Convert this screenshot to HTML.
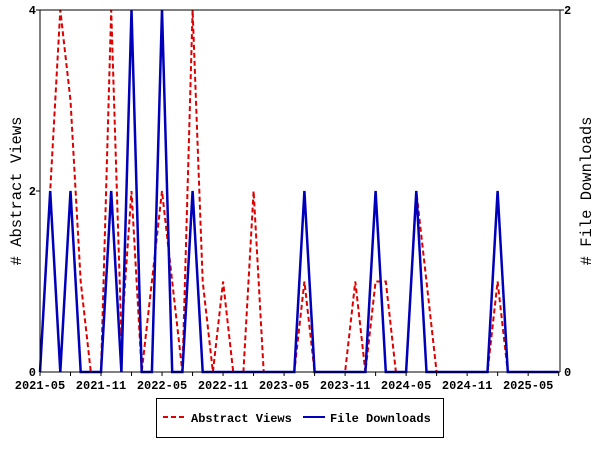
<!DOCTYPE html>
<html><head><meta charset="utf-8"><style>
body{margin:0;background:#fff}
svg text{font-family:"Liberation Mono",monospace;font-size:12px;font-weight:bold;fill:#000}
</style></head><body>
<svg id="s" width="600" height="450" xmlns="http://www.w3.org/2000/svg">
<rect x="0" y="0" width="600" height="450" fill="#fff"/>
<g id="plot"></g>
<line x1="40" y1="10" x2="40" y2="372" stroke="#000"/>
<line x1="560" y1="10" x2="560" y2="372" stroke="#000"/>
<line x1="40" y1="10" x2="560" y2="10" stroke="#000"/>
<line x1="40" y1="372" x2="560" y2="372" stroke="#000"/>
<g id="ticks" stroke="#000"></g>
<text x="36" y="14" text-anchor="end">4</text>
<text x="36" y="195" text-anchor="end">2</text>
<text x="36" y="376" text-anchor="end">0</text>
<text x="564" y="14">2</text>
<text x="564" y="376">0</text>
<g id="xl"></g>
<text transform="translate(21,191) rotate(-90)" text-anchor="middle" style="font-size:15.5px;font-weight:normal"># Abstract Views</text>
<text transform="translate(591,191) rotate(-90)" text-anchor="middle" style="font-size:15.5px;font-weight:normal"># File Downloads</text>
<rect x="156.5" y="398.5" width="287" height="39" fill="none" stroke="#000"/>
<line x1="163" y1="417" x2="184" y2="417" stroke="#d00" stroke-width="2" stroke-dasharray="5,3"/>
<text x="191" y="422">Abstract Views</text>
<line x1="303" y1="417" x2="325" y2="417" stroke="#00b" stroke-width="2"/>
<text x="330" y="422">File Downloads</text>
</svg>
<script>
var red=[0,2,4,3,1,0,0,4,0.4,2,0,1,2,1,0,4,1,0,1,0,0,2,0,0,0,0,1,0,0,0,0,1,0,1,1,0,0,2,1,0,0,0,0,0,0,1,0,0,0,0,0,0];
var blue=[0,1,0,1,0,0,0,1,0,2,0,0,2,0,0,1,0,0,0,0,0,0,0,0,0,0,1,0,0,0,0,0,0,1,0,0,0,1,0,0,0,0,0,0,0,1,0,0,0,0,0,0];
function X(i){return 40+i*10.17;}
var r=red.map((v,i)=>X(i).toFixed(1)+","+(372-v*90.5).toFixed(1)).join(" ");
var b=blue.map((v,i)=>X(i).toFixed(1)+","+(372-v*181).toFixed(1)).join(" ");
var p=document.getElementById("plot");
p.innerHTML='<polyline points="'+r+'" fill="none" stroke="#d00" stroke-width="2" stroke-dasharray="5,3"/>'+
'<polyline points="'+b+'" fill="none" stroke="#00b" stroke-width="2.5"/>';
var t="",l="",labs=["2021-05","2021-11","2022-05","2022-11","2023-05","2023-11","2024-05","2024-11","2025-05"];
for(var i=0;i<=51;i+=3){var x=X(i);t+='<line x1="'+x+'" y1="372" x2="'+x+'" y2="376"/>';}
t+='<line x1="36" y1="191" x2="40" y2="191"/><line x1="36" y1="10" x2="40" y2="10"/><line x1="560" y1="10" x2="564" y2="10"/>';
labs.forEach((s,k)=>{l+='<text x="'+X(k*6)+'" y="389" text-anchor="middle">'+s+'</text>';});
document.getElementById("ticks").innerHTML=t;
document.getElementById("xl").innerHTML=l;
</script>
</body></html>
